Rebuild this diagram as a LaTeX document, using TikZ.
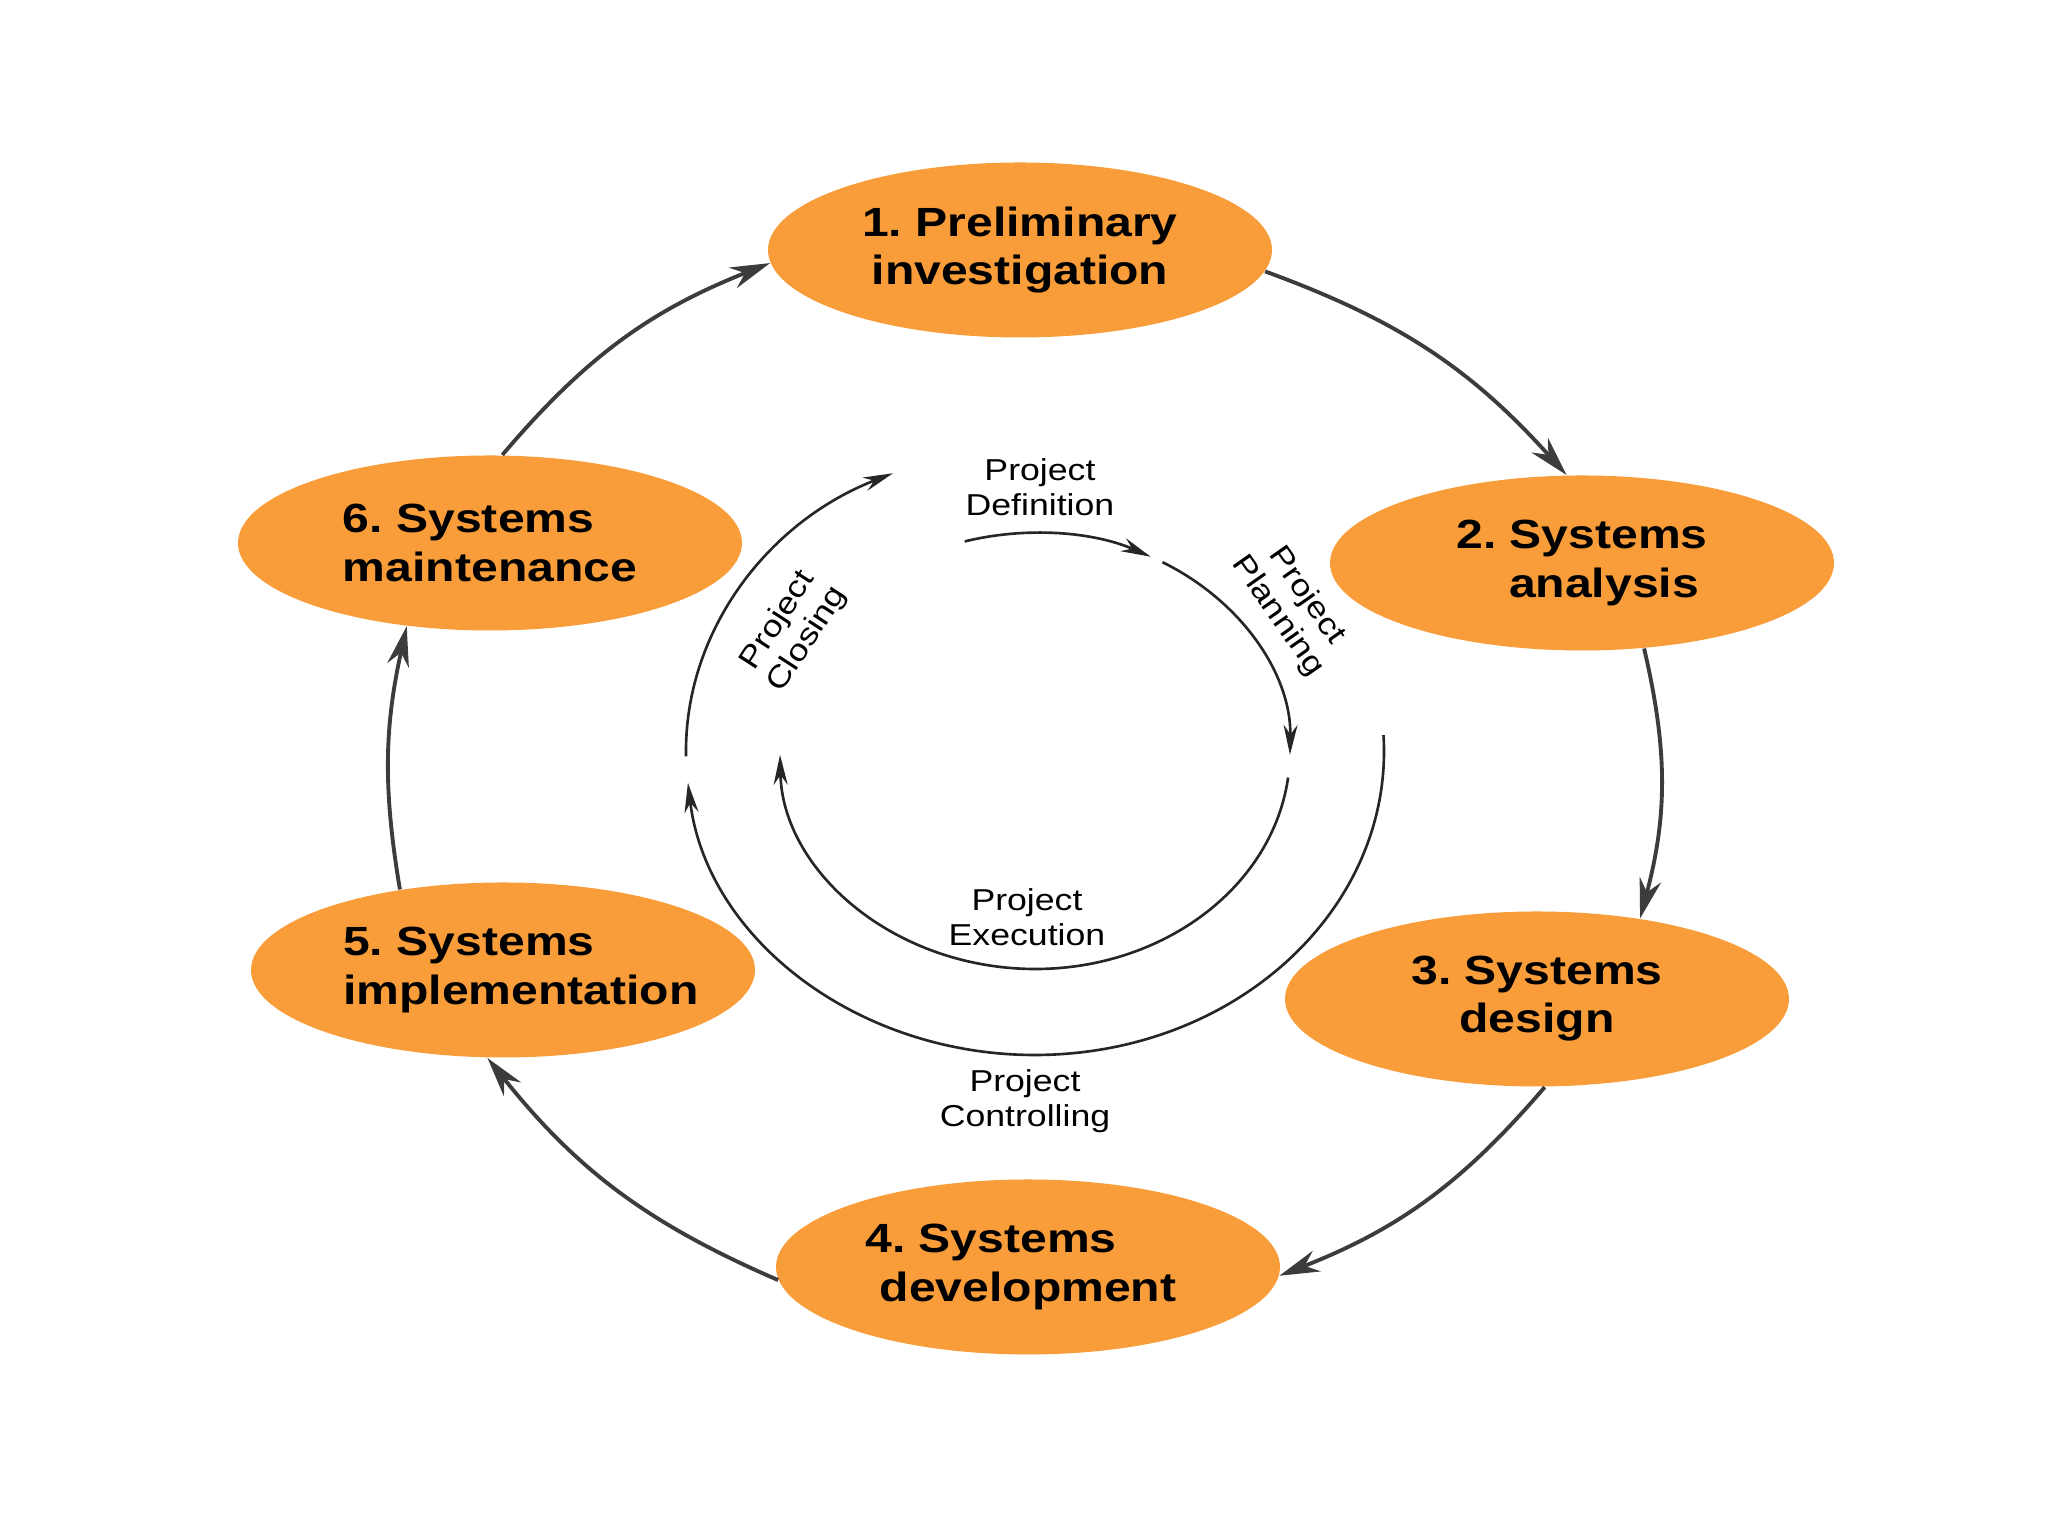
\documentclass[tikz,border=0pt]{standalone}
\usepackage{fontspec}
\setmainfont{Liberation Sans}
\newfontfamily\stagefont{Liberation Sans}[FakeStretch=1.18]
\usepackage{tikz}
\usetikzlibrary{arrows.meta,shapes.geometric}
\definecolor{phaseorange}{RGB}{248,157,58}
\definecolor{arcgray}{RGB}{60,60,60}
\frenchspacing

\begin{document}
\begin{tikzpicture}[
    phase/.style={
        ellipse,
        fill=phaseorange,
        minimum width=5.04cm,
        minimum height=1.75cm,
        inner sep=0pt,
        font=\stagefont\fontsize{11.6}{13.7}\selectfont\bfseries
    },
    lbl/.style={
        align=center,
        font=\stagefont\fontsize{8.6}{10}\selectfont
    },
    cyc/.style={-{Stealth[length=4mm,width=2.2mm]}, line width=1.1pt, draw=arcgray},
    sub/.style={-{Stealth[length=3mm,width=1.4mm]}, line width=0.75pt, draw=black!85}
]
    \useasboundingbox (0,0) rectangle (20.48,15.36);

    %% Phasen des Lebenszyklus
    \node[phase, align=center] (p1) at (10.20,12.86) {1. Preliminary\\investigation};
    \node[phase, align=center] (p2) at (15.82,9.73) {2. Systems\\\hspace*{0.44cm}analysis};
    \node[phase, align=center] (p3) at (15.37,5.37) {3. Systems\\design};
    \node[phase, align=center] (p4) at (10.28,2.69) {4. Systems\hspace*{0.74cm}\\development};
    \node[phase, align=left] (p5) at (5.03,5.66) {\hspace*{0.18cm}5. Systems\\\hspace*{0.18cm}implementation\hspace*{-0.18cm}};
    \node[phase, align=left] (p6) at (4.90,9.93) {6. Systems\\maintenance};

    %% Aeusserer Kreis
    \draw[cyc] (p1.-5) to[bend left=14] (p2.100);
    \draw[cyc] (p2.-54) to[bend left=14] (p3.38);
    \draw[cyc] (p3.-85) to[bend left=14] (p4.-2);
    \draw[cyc] (p4.183) to[bend left=14] (p5.-100);
    \draw[cyc] (p5.142) to[bend left=11] (p6.225);
    \draw[cyc] (p6.82) to[bend left=14] (p1.183);

    %% Projektzyklus innen
    \coordinate (ctr) at (10.35,7.85);
    \draw[sub] ([shift={(106:2.55 and 2.18)}]ctr) arc[start angle=106, end angle=63, x radius=2.55, y radius=2.18];
    \draw[sub] ([shift={(60:2.55 and 2.18)}]ctr) arc[start angle=60, end angle=-1, x radius=2.55, y radius=2.18];
    \draw[sub] ([shift={(-7:2.55 and 2.18)}]ctr) arc[start angle=-7, end angle=-179, x radius=2.55, y radius=2.18];
    \draw[sub] ([shift={(181:3.49 and 3.04)}]ctr) arc[start angle=181, end angle=114, x radius=3.49, y radius=3.04];
    \draw[sub] ([shift={(3:3.49 and 3.04)}]ctr) arc[start angle=3, end angle=-174, x radius=3.49, y radius=3.04];

    %% Beschriftungen
    \node[lbl] (defn) at (10.40,10.49) {Project\\Definition};
    \node[lbl, rotate=-55] (plan) at (12.92,9.30) {Project\\Planning};
    \node[lbl, rotate=57] (clos) at (7.93,9.06) {Project\\Closing};
    \node[lbl] (exec) at (10.27,6.19) {Project\\Execution};
    \node[lbl] (ctrl) at (10.25,4.35) {Project\\Controlling};
\end{tikzpicture}
\end{document}
